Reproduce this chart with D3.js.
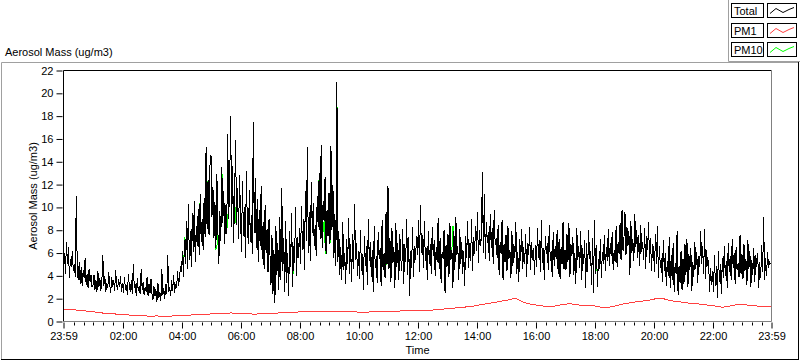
<!DOCTYPE html>
<html><head><meta charset="utf-8">
<script src="https://cdn.jsdelivr.net/npm/d3@7"></script>
<style>
html,body{margin:0;padding:0;background:#fff;}
svg text{font-family:"Liberation Sans",Arial,sans-serif;font-size:11px;fill:#000;}
</style></head><body>
<svg id="c" width="800" height="361"></svg>
<script>
// ---- DATA ----
const seriesNames = ["Total", "PM1", "PM10"];
const yTicks = [0,2,4,6,8,10,12,14,16,18,20,22];
const xTickLabels = ["23:59","02:00","04:00","06:00","08:00","10:00","12:00","14:00","16:00","18:00","20:00","22:00","23:59"];
const totalStepMin = 2;   // Total sampled every 2 minutes from 23:59
const total = [
4.5,6,4.2,7,5,6.5,3.8,5.5,4.8,6.2,4.4,5,3.9,11,4.5,3.6,5.2,3.3,4.8,3.1,4.5,3.8,5.6,3.2,4.2,2.9,4.6,3.5,4.1,3.0,
3.2,4.1,2.8,3.6,2.6,4.4,3.0,3.8,2.7,3.5,5.8,3.1,4.0,2.6,3.4,2.9,4.3,3.3,2.5,3.9,3.0,3.6,2.7,4.5,3.2,2.8,3.7,3.0,4.0,2.6,
3.4,2.5,3.9,2.8,3.2,2.3,4.2,3.0,2.6,3.6,2.4,5.0,2.9,3.3,2.2,3.8,2.7,3.1,2.4,4.6,2.8,3.5,2.3,3.0,2.6,3.9,2.2,3.3,2.5,3.7,
2.4,1.9,3.1,2.2,2.8,1.7,3.4,2.1,2.6,1.8,4.6,2.3,2.9,2.0,3.3,2.4,5.8,2.6,3.0,2.2,3.6,2.7,4.1,2.5,3.3,2.9,4.4,3.1,3.8,4.9,
4.3,6.2,3.9,7.1,5.0,8.8,4.6,10.3,5.4,7.9,4.8,9.5,6.1,10.6,5.2,8.4,6.6,9.9,5.8,11.2,7.0,9.0,6.3,10.8,7.4,15.3,8.1,12.4,7.6,13.8,
14.6,9.2,11.8,7.3,10.5,6.4,12.9,8.0,5.0,9.7,7.1,13.5,8.6,11.4,6.8,10.2,7.7,16.4,9.0,12.1,18.0,8.3,13.6,6.9,10.9,15.9,8.5,11.7,7.2,12.8,
9.4,6.1,12.3,7.5,10.0,5.6,13.2,8.2,6.8,11.5,7.0,9.3,5.9,17.5,7.8,12.6,6.4,10.7,5.2,9.8,6.6,11.9,5.5,8.7,4.6,10.2,6.0,8.1,4.3,9.0,
5.8,3.2,7.6,2.4,6.3,1.6,8.4,4.1,6.9,2.8,9.2,3.6,11.7,4.4,7.3,2.6,8.8,3.4,6.0,2.2,7.9,4.8,9.5,3.0,6.6,5.1,10.0,4.0,7.4,5.6,
8.2,5.0,10.1,6.3,9.0,4.5,11.4,7.1,15.3,6.0,9.6,5.3,12.2,7.8,10.4,6.6,8.5,5.7,11.0,8.3,13.0,7.2,15.5,6.4,10.6,8.8,12.7,5.9,9.8,7.5,
11.3,6.8,15.4,8.0,12.0,5.6,9.4,4.9,21.0,5.2,7.9,4.1,6.5,3.6,8.7,4.5,6.0,3.3,7.2,5.0,9.1,4.2,6.8,3.5,7.7,4.6,10.3,5.4,6.9,4.0,
6.2,3.7,8.0,4.4,5.9,2.8,7.5,4.9,6.6,3.2,9.0,5.3,7.0,3.9,6.3,2.6,8.4,4.7,5.7,3.4,7.8,5.5,6.4,3.1,8.9,4.5,6.0,3.8,9.6,5.0,
11.9,4.6,7.3,3.5,8.2,5.1,6.5,2.9,8.6,4.8,6.9,3.6,7.7,5.6,4.4,8.1,3.3,6.8,5.2,9.0,4.1,7.4,2.2,6.2,4.7,8.3,3.9,6.6,5.4,7.5,
5.8,8.9,4.3,10.2,6.0,7.6,4.7,8.8,5.3,6.4,3.6,7.9,5.0,6.8,4.2,8.3,5.7,7.1,4.0,6.5,5.2,9.1,4.6,7.3,3.4,6.1,5.5,8.0,2.5,6.7,
4.8,7.7,3.9,8.6,5.4,6.3,2.9,7.9,4.5,9.2,5.8,6.6,3.6,8.1,5.0,7.0,4.2,6.2,3.1,7.5,5.6,8.8,4.7,6.9,5.3,9.0,4.4,7.4,5.9,8.4,
6.2,9.6,5.1,8.0,6.6,7.4,13.1,6.0,11.2,5.5,8.7,6.9,7.8,5.3,9.4,6.4,8.2,5.0,9.8,6.7,7.3,5.6,8.5,4.1,7.0,5.9,8.9,3.6,6.8,5.2,
7.6,4.4,8.4,5.5,6.3,3.8,7.9,4.9,6.8,5.6,8.7,4.2,6.1,3.5,7.2,5.3,8.1,4.6,6.5,5.0,7.7,3.9,6.9,5.8,8.3,4.5,7.0,5.4,6.4,4.1,
6.7,4.8,8.2,5.6,7.1,4.3,8.9,5.1,6.4,3.6,7.5,5.9,6.9,4.5,8.5,5.3,6.2,3.9,7.8,4.9,6.6,5.5,8.0,4.2,7.2,3.7,6.5,5.0,8.7,4.6,
6.3,4.5,7.7,5.2,8.6,3.9,6.8,5.7,7.4,4.1,6.0,3.3,8.2,5.4,6.6,4.7,7.9,3.6,6.4,5.0,7.1,2.9,6.9,4.3,8.0,5.5,6.2,3.2,7.3,2.5,
8.9,4.2,6.7,3.0,5.5,4.6,7.2,3.8,6.1,5.0,7.6,4.4,6.5,5.3,8.1,4.9,6.9,5.7,7.8,4.5,6.3,5.2,8.4,4.8,7.0,5.9,8.6,5.4,9.8,6.2,
7.4,9.6,5.8,8.3,6.6,7.9,4.1,8.8,6.0,7.2,5.3,9.4,6.5,8.0,5.6,7.6,4.9,8.5,6.1,7.0,5.4,8.2,4.6,7.5,6.3,8.7,5.1,7.3,4.4,6.8,
6.4,4.3,7.7,5.0,8.4,3.8,6.6,4.7,5.6,3.5,7.1,4.4,6.0,3.1,5.3,4.0,7.4,2.9,5.8,3.6,6.9,2.6,5.1,4.2,7.9,2.3,4.9,3.4,6.2,2.8,
5.5,3.3,6.8,4.1,7.2,3.0,5.9,4.5,6.4,2.7,5.2,3.9,7.0,4.6,6.1,3.4,5.7,4.8,7.9,5.0,6.6,4.2,8.1,3.7,6.3,4.9,5.4,2.6,4.7,3.2,
4.4,2.6,5.8,3.1,4.9,2.1,6.2,3.5,5.0,2.4,5.6,3.8,6.6,4.0,5.3,2.9,6.9,4.3,5.7,3.6,7.2,4.7,6.0,3.3,6.5,4.5,5.1,3.9,7.6,4.2,
5.9,3.7,6.8,4.4,5.5,3.2,7.1,4.6,6.2,3.0,5.4,4.1,6.4,3.5,5.8,4.8,6.0,2.9,5.2,3.8,6.7,4.3,9.2,3.6,5.6,4.0,6.1,4.7,5.3,5.0
];
// PM10 is nearly identical to Total; these [index, value] pairs are where it differs
const pm10Diffs = [[123,7.4],[137,8.4],[138,6.6],[146,10.9],[148,8.6],[156,6.5],[162,10.5],[167,9.4],[175,8.8],[234,6.0],[259,9.0],[264,8.0],[266,6.8],[272,9.5],[279,5.8],[328,5.2],[396,8.4],[542,6.3]];
const pm1StepMin = 10;
const pm1 = [
1.08,1.02,1.05,0.97,0.95,0.9,0.86,0.8,0.74,0.7,0.68,0.64,0.6,0.58,0.55,
0.52,0.5,0.48,0.47,0.49,0.46,0.47,0.48,0.5,0.52,0.55,0.57,0.6,0.62,0.64,
0.66,0.7,0.73,0.72,0.75,0.73,0.7,0.68,0.66,0.65,0.67,0.7,0.73,0.72,0.76,
0.78,0.8,0.82,0.84,0.86,0.88,0.9,0.92,0.9,0.88,0.91,0.89,0.87,0.85,0.86,
0.82,0.8,0.83,0.85,0.84,0.87,0.9,0.88,0.91,0.93,0.92,0.95,0.97,0.96,1.0,
1.0,1.04,1.08,1.12,1.15,1.2,1.24,1.28,1.33,1.4,1.48,1.56,1.63,1.7,1.78,
1.85,1.95,2.05,1.8,1.62,1.52,1.45,1.38,1.34,1.3,1.36,1.45,1.52,1.56,1.5,
1.44,1.38,1.42,1.36,1.28,1.2,1.26,1.35,1.45,1.55,1.62,1.7,1.76,1.8,1.86,
1.95,2.05,2.0,1.88,1.8,1.74,1.68,1.62,1.58,1.55,1.5,1.44,1.4,1.32,1.25,
1.3,1.4,1.48,1.52,1.45,1.4,1.36,1.33,1.35,1.35
];
const seriesColors = {Total:"#000000", PM1:"#ff4040", PM10:"#00ff00"};

// ---- CHART ----
const svg = d3.select("#c");
const t0 = new Date(2000,0,1,23,59);
const t1 = new Date(2000,0,2,23,59);
const L = 63.5, R = 771.5, T = 70.5, B = 321.5;
const x = d3.scaleTime().domain([t0,t1]).range([L,R]);
const y = d3.scaleLinear().domain([0,22]).range([B,T]);
const tAt = m => new Date(t0.getTime() + m*60000);

// outer panel
svg.append("line").attr("x1",1.5).attr("y1",62.5).attr("x2",798.5).attr("y2",62.5).attr("stroke","#a0a0a0");
svg.append("line").attr("x1",1.5).attr("y1",62.5).attr("x2",1.5).attr("y2",359.5).attr("stroke","#a0a0a0");
svg.append("line").attr("x1",1).attr("y1",359.5).attr("x2",799).attr("y2",359.5).attr("stroke","#000");
svg.append("line").attr("x1",798.5).attr("y1",62).attr("x2",798.5).attr("y2",360).attr("stroke","#000");

// legend panel frame
svg.append("line").attr("x1",728.5).attr("y1",0).attr("x2",728.5).attr("y2",61.5).attr("stroke","#a0a0a0");
svg.append("line").attr("x1",728.5).attr("y1",61.5).attr("x2",800).attr("y2",61.5).attr("stroke","#a0a0a0");

// titles
svg.append("text").attr("x",5).attr("y",56).text("Aerosol Mass (ug/m3)");
svg.append("text").attr("transform",`translate(37,${(T+B)/2}) rotate(-90)`).attr("text-anchor","middle").text("Aerosol Mass (ug/m3)");
svg.append("text").attr("x",(L+R)/2).attr("y",354).attr("text-anchor","middle").text("Time");

// plot bg
svg.append("rect").attr("x",L).attr("y",T).attr("width",R-L).attr("height",B-T).attr("fill","#fff");

// y axis
const yAx = svg.append("g").attr("transform",`translate(${L-1},0)`)
  .call(d3.axisLeft(y).tickValues(yTicks).tickSize(6).tickPadding(3).tickFormat(d3.format("d")));
yAx.select(".domain").remove();
yAx.attr("font-size",null).attr("font-family",null);

// x axis major
const majorTimes = xTickLabels.map((lab,i)=> i===0 ? t0 : (i===xTickLabels.length-1 ? t1 : tAt(i*120+1)));
const xAx = svg.append("g").attr("transform",`translate(0,${B+1})`)
  .call(d3.axisBottom(x).tickValues(majorTimes).tickSize(6).tickPadding(4).tickFormat((d,i)=>xTickLabels[i]));
xAx.select(".domain").remove();
xAx.attr("font-size",null).attr("font-family",null);
// minor ticks every 20 min on the clock
const minorTimes = d3.timeMinute.every(20).range(t0,t1).filter(d=>d.getMinutes()!==0 || d.getHours()%2!==0);
svg.append("g").selectAll("line").data(minorTimes).join("line")
  .attr("x1",d=>Math.round(x(d))+0.5).attr("x2",d=>Math.round(x(d))+0.5)
  .attr("y1",B+1).attr("y2",B+4).attr("stroke","#000");

// lines
const pm10 = total.slice();
pm10Diffs.forEach(([i,v])=>{pm10[i]=v;});
const lineT = d3.line().x((d,i)=>x(tAt(i*totalStepMin))).y(d=>y(d));
const lineP = d3.line().x((d,i)=>x(tAt(i*pm1StepMin))).y(d=>y(d));
svg.append("clipPath").attr("id","pc").append("rect").attr("x",L).attr("y",T).attr("width",R-L).attr("height",B-T);
const g = svg.append("g").attr("clip-path","url(#pc)");
g.append("path").datum(pm10).attr("d",lineT).attr("fill","none").attr("stroke",seriesColors.PM10).attr("stroke-width",1).attr("shape-rendering","crispEdges");
g.append("path").datum(total).attr("d",lineT).attr("fill","none").attr("stroke",seriesColors.Total).attr("stroke-width",1).attr("shape-rendering","crispEdges");
g.append("path").datum(pm1).attr("d",lineP).attr("fill","none").attr("stroke",seriesColors.PM1).attr("stroke-width",1).attr("shape-rendering","crispEdges");

// plot frame
svg.append("line").attr("x1",L).attr("y1",T).attr("x2",R).attr("y2",T).attr("stroke","#000");
svg.append("line").attr("x1",L).attr("y1",T).attr("x2",L).attr("y2",B).attr("stroke","#000");
svg.append("line").attr("x1",L).attr("y1",B).attr("x2",R).attr("y2",B).attr("stroke","#808080");
svg.append("line").attr("x1",R).attr("y1",T).attr("x2",R).attr("y2",B).attr("stroke","#808080");

// legend
const legY = [3.5, 23.5, 42.5];
const lg = svg.append("g");
seriesNames.forEach((n,i)=>{
  const yy = legY[i];
  lg.append("rect").attr("x",731.5).attr("y",yy).attr("width",32).attr("height",14).attr("fill","#fff").attr("stroke","#000");
  lg.append("text").attr("x",734).attr("y",yy+11.5).style("font-size","11px").text(n);
  lg.append("rect").attr("x",767.5).attr("y",yy).attr("width",29).attr("height",14).attr("fill","#fff").attr("stroke","#000");
  const pts = [[770,yy+10],[776,yy+5],[783,yy+9],[789,yy+6],[794,yy+4]];
  lg.append("path").attr("d",d3.line()(pts)).attr("fill","none").attr("stroke",seriesColors[n]).attr("stroke-width",1);
});
</script>
</body></html>
